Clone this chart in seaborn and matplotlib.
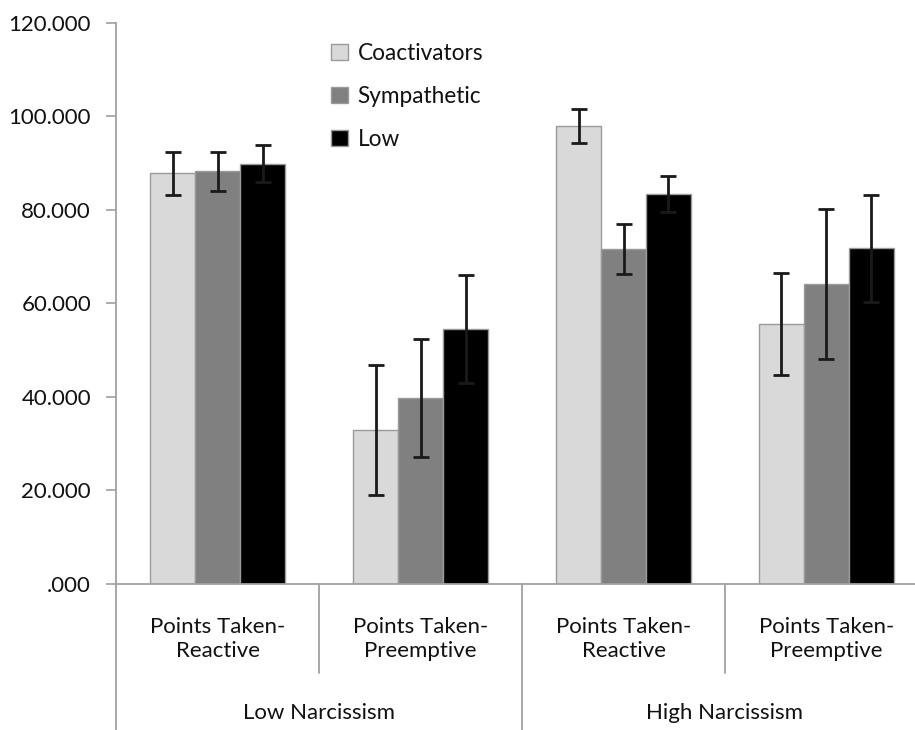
import numpy as np
import pandas as pd
import matplotlib.pyplot as plt
import matplotlib.transforms as mtransforms
from matplotlib.ticker import FuncFormatter
import seaborn as sns

# Data
conditions = ["Coactivators", "Sympathetic", "Low"]
categories = ["Low-Reactive", "Low-Preemptive", "High-Reactive", "High-Preemptive"]
cat_labels = ["Points Taken-\nReactive", "Points Taken-\nPreemptive",
              "Points Taken-\nReactive", "Points Taken-\nPreemptive"]
groups = ["Low Narcissism", "High Narcissism"]

coactivators = [87.9, 32.9, 98.0, 55.6]
sympathetic = [88.3, 39.7, 71.6, 64.2]
low = [89.9, 54.5, 83.4, 71.8]

coactivators_err = [4.6, 13.9, 3.7, 11.0]
sympathetic_err = [4.2, 12.6, 5.3, 16.0]
low_err = [3.9, 11.6, 3.9, 11.5]

colors = ["#d9d9d9", "#808080", "#000000"]

df = pd.DataFrame({
    "category": categories * 3,
    "condition": np.repeat(conditions, 4),
    "value": coactivators + sympathetic + low,
    "err": coactivators_err + sympathetic_err + low_err,
})

sns.set_style("white")
plt.rcParams["font.family"] = ["Lato", "DejaVu Sans"]
plt.rcParams["text.color"] = "#111111"
plt.rcParams["ytick.labelcolor"] = "#111111"

fig = plt.figure(figsize=(9.15, 7.3), dpi=100)
ax = fig.add_axes([0.1268, 0.2, 0.8732, 0.7685])

sns.barplot(data=df, x="category", y="value", hue="condition", order=categories,
            hue_order=conditions, palette=colors, width=0.665, errorbar=None,
            edgecolor="#9a9a9a", linewidth=1.0, ax=ax)

# error bars
for cont, cond in zip(ax.containers, conditions):
    sub = df[df["condition"] == cond].set_index("category").loc[categories]
    xs = [b.get_x() + b.get_width() / 2 for b in cont]
    ax.errorbar(xs, sub["value"], yerr=sub["err"], fmt="none", ecolor="#1a1a1a",
                elinewidth=2.0, capsize=5.5, capthick=2.0, zorder=5)

ax.set_ylim(0, 120)
ax.set_xlim(-0.5, 3.436)
ax.set_yticks(np.arange(0, 121, 20))
ax.yaxis.set_major_formatter(FuncFormatter(lambda v, p: f"{v:.3f}".lstrip("0") if v < 1 else f"{v:.3f}"))
ax.tick_params(axis="y", which="major", left=True, length=7, width=1.2, color="#a0a0a0",
               labelsize=16, pad=11)
ax.set_xticks([])
ax.set_xlabel("")
ax.set_ylabel("")

for side in ["top", "right"]:
    ax.spines[side].set_visible(False)
for side in ["left", "bottom"]:
    ax.spines[side].set_color("#a0a0a0")
    ax.spines[side].set_linewidth(1.3)

# category and group labels below the axis
trans = mtransforms.blended_transform_factory(ax.transData, ax.transAxes)
for i, lab in enumerate(cat_labels):
    ax.text(i, -0.098, lab, transform=trans, ha="center", va="center",
            fontsize=16, linespacing=1.2)
for i, g in enumerate(groups):
    ax.text(2 * i + 0.5, -0.23, g, transform=trans, ha="center", va="center", fontsize=16)

# separators
for xpos, ybot in [(-0.5, -0.27), (0.5, -0.159), (1.5, -0.27), (2.5, -0.159)]:
    ax.plot([xpos, xpos], [0, ybot], transform=trans, color="#a0a0a0", lw=1.3,
            clip_on=False)

leg = ax.legend(loc="upper left", bbox_to_anchor=(0.243, 1.001), frameon=False,
                fontsize=16.3, handlelength=0.75, handleheight=0.75, labelspacing=0.97,
                handletextpad=0.45, title=None)
for h in leg.legend_handles:
    h.set_edgecolor("#9a9a9a")

fig.savefig("out.png", dpi=100)
